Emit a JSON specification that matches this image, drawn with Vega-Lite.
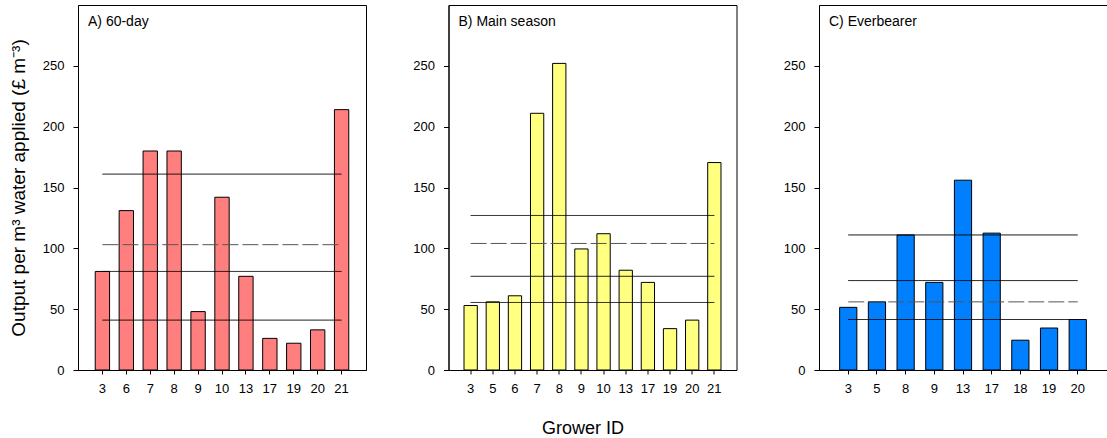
{
  "$schema": "https://vega.github.io/schema/vega-lite/v6.json",
  "autosize": {"type": "pad"},
  "padding": {"left": 8, "top": 4, "right": 0, "bottom": 0},
  "background": "white",
  "bounds": "flush",
  "spacing": 82.5,
  "config": {
    "font": "Liberation Sans",
    "view": {"stroke": "black", "strokeWidth": 1},
    "axis": {
      "grid": false,
      "domainColor": "black",
      "tickColor": "black",
      "labelColor": "black",
      "titleColor": "black",
      "labelFont": "Liberation Sans",
      "titleFont": "Liberation Sans",
      "labelFontSize": 13,
      "titleFontWeight": "normal"
    },
    "axisX": {"labelAngle": 0, "tickSize": 4, "labelPadding": 8, "domainColor": "black"},
    "axisY": {"tickSize": 5, "labelPadding": 9},
    "title": {"fontWeight": "normal", "color": "black", "fontSize": 14, "anchor": "start", "frame": "group", "offset": -24, "dx": 10, "font": "Liberation Sans"}
  },
  "hconcat": [
    {
      "width": 288,
      "height": 365,
      "title": {"text": "A) 60-day"},
      "layer": [
        {
          "data": {"values": [
            {"grower": 3, "value": 81},
            {"grower": 6, "value": 131},
            {"grower": 7, "value": 180},
            {"grower": 8, "value": 180},
            {"grower": 9, "value": 48},
            {"grower": 10, "value": 142},
            {"grower": 13, "value": 77},
            {"grower": 17, "value": 26},
            {"grower": 19, "value": 22},
            {"grower": 20, "value": 33},
            {"grower": 21, "value": 214}
          ]},
          "mark": {"type": "bar", "fill": "#FF7F7F", "stroke": "black", "strokeWidth": 1},
          "encoding": {
            "x": {"field": "grower", "type": "ordinal", "scale": {"domain": [3, 6, 7, 8, 9, 10, 13, 17, 19, 20, 21], "paddingInner": 0.4, "paddingOuter": 0.72}, "axis": {"title": null}},
            "y": {"field": "value", "type": "quantitative", "scale": {"domain": [0, 300], "nice": false}, "axis": {"values": [0, 50, 100, 150, 200, 250], "title": "Output per m³ water applied (£ m⁻³)", "titleFontSize": 19, "titlePadding": 14}}
          }
        },
        {
          "data": {"values": [
            {"stat": "p75", "value": 161, "from": 3, "to": 21},
            {"stat": "mean", "value": 103, "from": 3, "to": 21},
            {"stat": "p50", "value": 81, "from": 3, "to": 21},
            {"stat": "p25", "value": 41, "from": 3, "to": 21}
          ]},
          "mark": {"type": "rule", "strokeWidth": 1},
          "encoding": {
            "x": {"field": "from", "type": "ordinal"},
            "x2": {"field": "to"},
            "y": {"field": "value", "type": "quantitative"},
            "color": {"field": "stat", "type": "nominal", "scale": {"domain": ["mean", "p25", "p50", "p75"], "range": ["#555555", "black", "black", "black"]}, "legend": null},
            "strokeDash": {"field": "stat", "type": "nominal", "scale": {"domain": ["mean", "p25", "p50", "p75"], "range": [[16, 4], [1, 0], [1, 0], [1, 0]]}, "legend": null}
          }
        }
      ]
    },
    {
      "width": 288,
      "height": 365,
      "title": {"text": "B) Main season"},
      "layer": [
        {
          "data": {"values": [
            {"grower": 3, "value": 53},
            {"grower": 5, "value": 56},
            {"grower": 6, "value": 61},
            {"grower": 7, "value": 211},
            {"grower": 8, "value": 252},
            {"grower": 9, "value": 99.5},
            {"grower": 10, "value": 112},
            {"grower": 13, "value": 82},
            {"grower": 17, "value": 72},
            {"grower": 19, "value": 34},
            {"grower": 20, "value": 41},
            {"grower": 21, "value": 170.5}
          ]},
          "mark": {"type": "bar", "fill": "#FFFF80", "stroke": "black", "strokeWidth": 1},
          "encoding": {
            "x": {"field": "grower", "type": "ordinal", "scale": {"domain": [3, 5, 6, 7, 8, 9, 10, 13, 17, 19, 20, 21], "paddingInner": 0.4, "paddingOuter": 0.7}, "axis": {"title": "Grower ID", "titleFontSize": 18, "titleX": 134, "titleY": 63, "titleBaseline": "alphabetic"}},
            "y": {"field": "value", "type": "quantitative", "scale": {"domain": [0, 300], "nice": false}, "axis": {"values": [0, 50, 100, 150, 200, 250], "title": null}}
          }
        },
        {
          "data": {"values": [
            {"stat": "p75", "value": 127, "from": 3, "to": 21},
            {"stat": "mean", "value": 104, "from": 3, "to": 21},
            {"stat": "p50", "value": 77, "from": 3, "to": 21},
            {"stat": "p25", "value": 55.5, "from": 3, "to": 21}
          ]},
          "mark": {"type": "rule", "strokeWidth": 1},
          "encoding": {
            "x": {"field": "from", "type": "ordinal"},
            "x2": {"field": "to"},
            "y": {"field": "value", "type": "quantitative"},
            "color": {"field": "stat", "type": "nominal", "scale": {"domain": ["mean", "p25", "p50", "p75"], "range": ["#555555", "black", "black", "black"]}, "legend": null},
            "strokeDash": {"field": "stat", "type": "nominal", "scale": {"domain": ["mean", "p25", "p50", "p75"], "range": [[16, 4], [1, 0], [1, 0], [1, 0]]}, "legend": null}
          }
        }
      ]
    },
    {
      "width": 288,
      "height": 365,
      "title": {"text": "C) Everbearer"},
      "layer": [
        {
          "data": {"values": [
            {"grower": 3, "value": 51.5},
            {"grower": 5, "value": 56},
            {"grower": 8, "value": 111},
            {"grower": 9, "value": 72},
            {"grower": 13, "value": 156},
            {"grower": 17, "value": 112.5},
            {"grower": 18, "value": 24.5},
            {"grower": 19, "value": 34.5},
            {"grower": 20, "value": 41.5}
          ]},
          "mark": {"type": "bar", "fill": "#0080FF", "stroke": "black", "strokeWidth": 1},
          "encoding": {
            "x": {"field": "grower", "type": "ordinal", "scale": {"domain": [3, 5, 8, 9, 13, 17, 18, 19, 20], "paddingInner": 0.4, "paddingOuter": 0.72}, "axis": {"title": null}},
            "y": {"field": "value", "type": "quantitative", "scale": {"domain": [0, 300], "nice": false}, "axis": {"values": [0, 50, 100, 150, 200, 250], "title": null}}
          }
        },
        {
          "data": {"values": [
            {"stat": "p75", "value": 111, "from": 3, "to": 20},
            {"stat": "p50", "value": 73.5, "from": 3, "to": 20},
            {"stat": "mean", "value": 56, "from": 3, "to": 20},
            {"stat": "p25", "value": 41.5, "from": 3, "to": 20}
          ]},
          "mark": {"type": "rule", "strokeWidth": 1},
          "encoding": {
            "x": {"field": "from", "type": "ordinal"},
            "x2": {"field": "to"},
            "y": {"field": "value", "type": "quantitative"},
            "color": {"field": "stat", "type": "nominal", "scale": {"domain": ["mean", "p25", "p50", "p75"], "range": ["#555555", "black", "black", "black"]}, "legend": null},
            "strokeDash": {"field": "stat", "type": "nominal", "scale": {"domain": ["mean", "p25", "p50", "p75"], "range": [[16, 4], [1, 0], [1, 0], [1, 0]]}, "legend": null}
          }
        }
      ]
    }
  ]
}
